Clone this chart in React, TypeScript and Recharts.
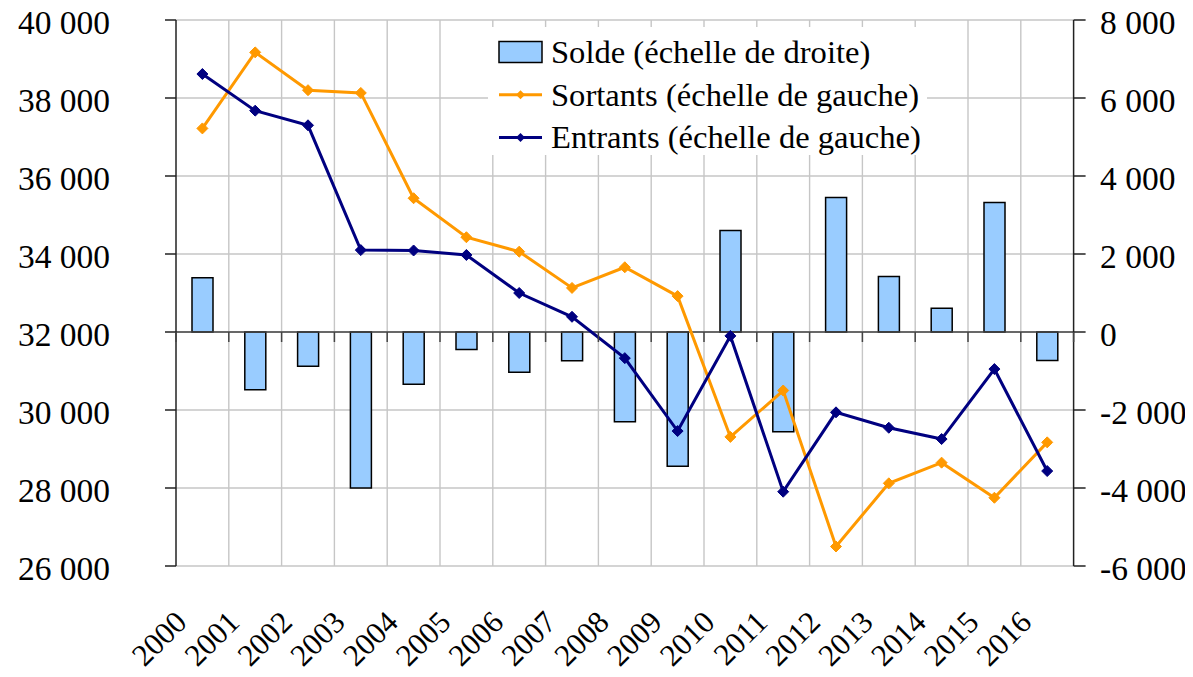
import React from 'react';
import { ComposedChart, Bar, Line, XAxis, YAxis, CartesianGrid, ReferenceLine, Legend } from 'recharts';

const years = ['2000', '2001', '2002', '2003', '2004', '2005', '2006', '2007', '2008', '2009', '2010', '2011', '2012', '2013', '2014', '2015', '2016'];
const solde = [1390, -1480, -880, -4000, -1340, -450, -1030, -740, -2300, -3440, 2600, -2560, 3450, 1420, 610, 3320, -730];
const sortants = [37220, 39170, 38200, 38130, 35430, 34430, 34060, 33130, 33660, 32920, 29310, 30500, 26500, 28120, 28650, 27750, 29170];
const entrants = [38615, 37675, 37300, 34100, 34090, 33975, 33000, 32390, 31330, 29460, 31900, 27905, 29940, 29545, 29255, 31050, 28435];
const leftTicks = [26000, 28000, 30000, 32000, 34000, 36000, 38000, 40000];
const rightTicks = [-6000, -4000, -2000, 0, 2000, 4000, 6000, 8000];
const soldeName = 'Solde (échelle de droite)';
const sortantsName = 'Sortants (échelle de gauche)';
const entrantsName = 'Entrants (échelle de gauche)';

const data = years.map((y, i) => ({ year: y, solde: solde[i], sortants: sortants[i], entrants: entrants[i] }));

const FONT = '"Liberation Serif", "Times New Roman", serif';
const W = 1193;
const H = 677;
const TOP = 20;
const LEFT_W = 176;
const RIGHT_W = 119.4;
const XAXIS_H = 111;
const PLOT_W = W - LEFT_W - RIGHT_W;
const PLOT_H = H - TOP - XAXIS_H;
const ORANGE = '#ff9900';
const NAVY = '#000080';
const BAR_FILL = '#99ccff';

const fmt = (v: number) => {
  const s = Math.abs(v).toString().replace(/\B(?=(\d{3})+(?!\d))/g, ' ');
  return (v < 0 ? '-' : '') + s;
};

const LeftTick = (props: any) => {
  const { x, y, payload } = props;
  return (
    <text x={x} y={y + 13.5} textAnchor="end" fontSize={33.5} fontFamily={FONT} fill="#000">
      {fmt(payload.value)}
    </text>
  );
};

const RightTick = (props: any) => {
  const { x, y, payload } = props;
  return (
    <text x={x} y={y + 13.5} textAnchor="start" fontSize={33.5} fontFamily={FONT} fill="#000">
      {fmt(payload.value)}
    </text>
  );
};

const XTick = (props: any) => {
  const { x, y, payload, index } = props;
  const band = PLOT_W / years.length;
  const zeroY = TOP + PLOT_H * (rightTicks[rightTicks.length - 1] / (rightTicks[rightTicks.length - 1] - rightTicks[0]));
  const bx = x - band / 2;
  const ax = x - 14;
  const ay = y + 58;
  return (
    <g>
      <line x1={bx} x2={bx} y1={zeroY} y2={zeroY + 10} stroke="#444" strokeWidth={1.5} />
      {index === years.length - 1 && (
        <line x1={x + band / 2} x2={x + band / 2} y1={zeroY} y2={zeroY + 10} stroke="#444" strokeWidth={1.5} />
      )}
      <text x={ax} y={ay} transform={`rotate(-45, ${ax}, ${ay})`} textAnchor="end" fontSize={31} fontFamily={FONT} fill="#000">
        {payload.value}
      </text>
    </g>
  );
};

const Diamond = (color: string) => (props: any) => {
  const { cx, cy } = props;
  if (cx == null || cy == null) return null;
  const r = 5.5;
  return (
    <polygon
      key={`d-${cx}-${cy}`}
      points={`${cx},${cy - r} ${cx + r},${cy} ${cx},${cy + r} ${cx - r},${cy}`}
      fill={color}
      stroke={color}
      strokeWidth={1}
    />
  );
};

const LegendBox = () => {
  const rows = [
    { name: soldeName, type: 'bar', color: BAR_FILL },
    { name: sortantsName, type: 'line', color: ORANGE },
    { name: entrantsName, type: 'line', color: NAVY },
  ];
  return (
    <svg width={439} height={128} style={{ display: 'block', background: '#fff' }}>
      <rect x={0} y={0} width={439} height={128} fill="#fff" />
      {rows.map((r, i) => {
        const cy = 25 + i * 42.7;
        return (
          <g key={r.name}>
            {r.type === 'bar' ? (
              <rect x={11} y={cy - 10.5} width={43} height={21} fill={r.color} stroke="#000" strokeWidth={1.5} />
            ) : (
              <g>
                <line x1={11} x2={54} y1={cy} y2={cy} stroke={r.color} strokeWidth={3} />
                <polygon points={`32.5,${cy - 4.5} 37,${cy} 32.5,${cy + 4.5} 28,${cy}`} fill={r.color} />
              </g>
            )}
            <text x={63} y={cy + 11} fontSize={32.6} fontFamily={FONT} fill="#000">
              {r.name}
            </text>
          </g>
        );
      })}
    </svg>
  );
};

export default function App() {
  return (
    <div style={{ width: W, height: H, margin: '-8px 0 0 -8px' }}>
      <ComposedChart width={W} height={H} data={data} margin={{ top: TOP, right: 0, bottom: 0, left: 0 }}>
        <CartesianGrid
          yAxisId="left"
          stroke="#c6c6c6"
          strokeWidth={1.4}
          verticalCoordinatesGenerator={(p: any) => {
            const off = p && p.offset ? p.offset : { left: LEFT_W, width: PLOT_W };
            const band = off.width / years.length;
            return years.slice(1).map((_, i) => off.left + band * (i + 1));
          }}
        />
        <XAxis
          dataKey="year"
          height={XAXIS_H}
          axisLine={false}
          tickLine={false}
          tickSize={0}
          tickMargin={0}
          interval={0}
          tick={<XTick />}
        />
        <YAxis
          yAxisId="left"
          orientation="left"
          width={LEFT_W}
          domain={[leftTicks[0], leftTicks[leftTicks.length - 1]]}
          ticks={leftTicks}
          interval={0}
          axisLine={{ stroke: '#222', strokeWidth: 1.5 }}
          tickLine={{ stroke: '#222', strokeWidth: 1.5 }}
          tickSize={11}
          tickMargin={55}
          tick={<LeftTick />}
        />
        <YAxis
          yAxisId="right"
          orientation="right"
          width={RIGHT_W}
          domain={[rightTicks[0], rightTicks[rightTicks.length - 1]]}
          ticks={rightTicks}
          interval={0}
          axisLine={{ stroke: '#222', strokeWidth: 1.5 }}
          tickLine={{ stroke: '#222', strokeWidth: 1.5 }}
          tickSize={12}
          tickMargin={14.4}
          tick={<RightTick />}
        />
        <ReferenceLine yAxisId="right" y={0} stroke="#444" strokeWidth={1.5} />
        <Bar
          yAxisId="right"
          dataKey="solde"
          name={soldeName}
          barSize={21}
          fill={BAR_FILL}
          stroke="#000"
          strokeWidth={1.5}
          isAnimationActive={false}
        />
        <Line
          yAxisId="left"
          dataKey="sortants"
          name={sortantsName}
          stroke={ORANGE}
          strokeWidth={3}
          dot={Diamond(ORANGE)}
          activeDot={false}
          isAnimationActive={false}
        />
        <Line
          yAxisId="left"
          dataKey="entrants"
          name={entrantsName}
          stroke={NAVY}
          strokeWidth={3}
          dot={Diamond(NAVY)}
          activeDot={false}
          isAnimationActive={false}
        />
        <Legend
          layout="vertical"
          align="center"
          verticalAlign="middle"
          content={() => <LegendBox />}
          wrapperStyle={{ left: 488, top: 27, width: 439, height: 128, right: 'auto', bottom: 'auto' }}
        />
      </ComposedChart>
    </div>
  );
}
